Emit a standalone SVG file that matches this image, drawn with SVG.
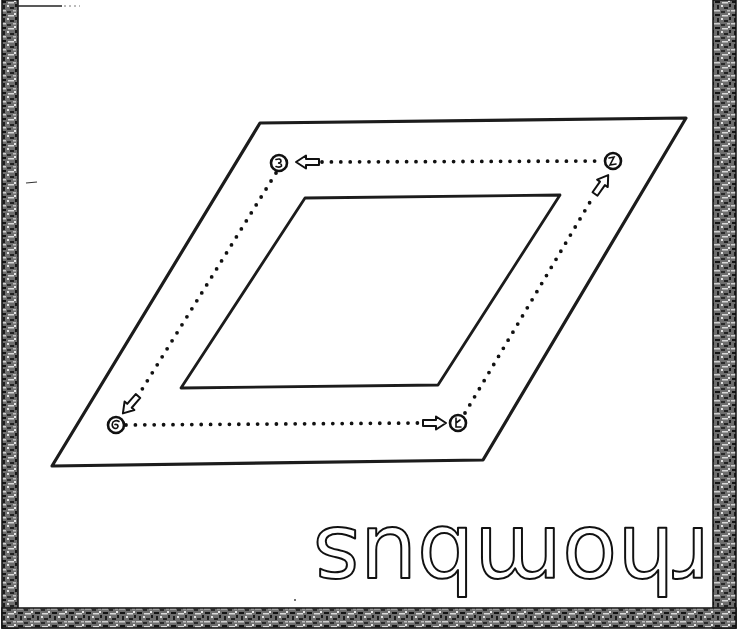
<svg xmlns="http://www.w3.org/2000/svg" width="738" height="630" viewBox="0 0 738 630">
  <defs>
    <pattern id="tex" width="17" height="13" patternUnits="userSpaceOnUse">
      <rect width="17" height="13" fill="#6e6e6e"/>
      <rect x="1" y="1" width="5" height="2" fill="#151515"/>
      <rect x="8" y="2" width="6" height="1.5" fill="#d8d8d8"/>
      <rect x="3" y="5" width="2" height="4" fill="#1e1e1e"/>
      <rect x="10" y="7" width="4" height="2" fill="#222"/>
      <rect x="0" y="10" width="6" height="1.5" fill="#cfcfcf"/>
      <rect x="7" y="11" width="4" height="2" fill="#2b2b2b"/>
      <rect x="14" y="0" width="2" height="2" fill="#e6e6e6"/>
      <rect x="7" y="5" width="2" height="2" fill="#e2e2e2"/>
      <rect x="13" y="10" width="3" height="1.5" fill="#bdbdbd"/>
      <rect x="15" y="4" width="2" height="3" fill="#1a1a1a"/>
    </pattern>
    <path id="arr" d="M0,-3 L13,-3 L13,-6.5 L23,0 L13,6.5 L13,3 L0,3 Z"/>
  </defs>
  <style>
    .band { fill: url(#tex); stroke: #111; stroke-width: 1.5; }
    .shape { fill: none; stroke: #1c1c1c; stroke-width: 3.2; stroke-linejoin: round; }
    .inner { fill: none; stroke: #1c1c1c; stroke-width: 2.8; stroke-linejoin: round; }
    .dots { fill: none; stroke: #111; stroke-width: 3.8; stroke-linecap: round; stroke-dasharray: 0 9.4; }
    .pt { fill: #fff; stroke: #111; stroke-width: 2.6; }
    .mark { fill: none; stroke: #111; stroke-width: 1.6; stroke-linecap: round; }
    .arrow { fill: #fff; stroke: #111; stroke-width: 2; stroke-linejoin: round; }
    .word { font-family: "DejaVu Sans", sans-serif; font-size: 90px; fill: #fff; stroke: #111; stroke-width: 2; stroke-linejoin: round; }
  </style>

  <rect width="738" height="630" fill="#fff"/>

  <!-- textured frame -->
  <g id="frame">
    <rect class="band" x="2" y="0" width="16" height="628"/>
    <rect class="band" x="713" y="0" width="23" height="628"/>
    <rect class="band" x="2" y="608" width="734" height="20"/>
    <line x1="17" y1="6" x2="62" y2="6" stroke="#222" stroke-width="1.4"/>
    <line x1="64" y1="6" x2="80" y2="6" stroke="#777" stroke-width="1" stroke-dasharray="2 3"/>
    <line x1="26" y1="183" x2="37" y2="182" stroke="#333" stroke-width="1.2"/>
    <circle cx="295" cy="600" r="1" fill="#444"/>
  </g>

  <g id="outer-rhombus">
    <polygon class="shape" points="260,123 686,118 483,460 52,466"/>
  </g>
  <g id="inner-rhombus">
    <polygon class="inner" points="305,198 560,195 438,385 181,388"/>
  </g>

  <g id="connectors">
    <line class="dots" x1="322" y1="162" x2="603" y2="161"/>
    <line class="dots" x1="276" y1="173" x2="141" y2="391"/>
    <line class="dots" x1="126" y1="425" x2="420" y2="423"/>
    <line class="dots" x1="465" y1="413" x2="593" y2="197"/>
    <use href="#arr" class="arrow" transform="translate(319,162) rotate(180)"/>
    <use href="#arr" class="arrow" transform="translate(138,396) rotate(131)"/>
    <use href="#arr" class="arrow" transform="translate(423,423)"/>
    <use href="#arr" class="arrow" transform="translate(595,194) rotate(-55)"/>
  </g>

  <g id="corner-top-left">
    <circle class="pt" cx="279" cy="163" r="8"/>
    <path class="mark" d="M276,159.5 Q281,158 281,161 Q281,163 278,163 Q282,163.5 281.5,166 Q280,168 276,166.5"/>
  </g>
  <g id="corner-top-right">
    <circle class="pt" cx="613" cy="161" r="8"/>
    <path class="mark" d="M609,158 L614,157 L610,165 L616,164"/>
  </g>
  <g id="corner-bottom-left">
    <circle class="pt" cx="116" cy="425" r="8"/>
    <path class="mark" d="M119,421.5 Q116,419.5 113,422 Q111,426 114,428 Q117,429.5 118,426.5 Q118,424 115,424.5"/>
  </g>
  <g id="corner-bottom-right">
    <circle class="pt" cx="458" cy="423" r="8"/>
    <path class="mark" d="M456,418 L456,427 L461,427 M456,423 L460,420"/>
  </g>

  <g id="label">
    <text class="word" transform="translate(710,528) rotate(180)" x="0" y="0" textLength="397" lengthAdjust="spacing">rhombus</text>
  </g>
</svg>
